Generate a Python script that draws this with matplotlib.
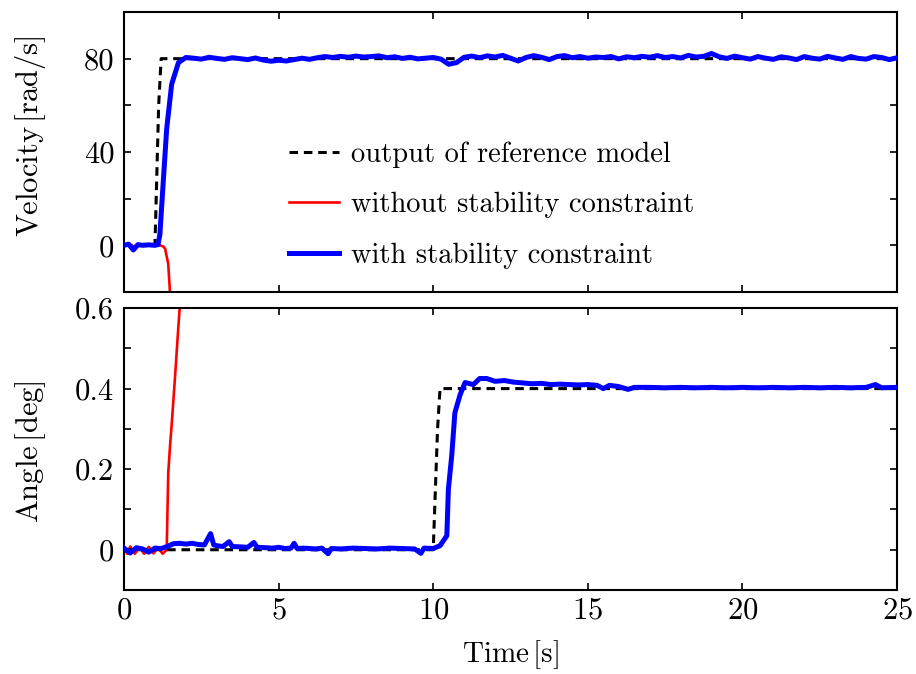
import numpy as np
import matplotlib
matplotlib.use("Agg")
import matplotlib.pyplot as plt
from matplotlib.ticker import MultipleLocator

plt.rcParams.update({
    "font.family": "serif",
    "font.serif": ["cmr10"],
    "mathtext.fontset": "cm",
    "axes.formatter.use_mathtext": True,
    "axes.unicode_minus": False,
})

# ---------------- data ----------------
# velocity of the reference model [rad/s]
t_vel_ref = [0.0, 1.0, 1.12, 1.2, 25.0]
vel_ref = [0.0, 0.0, 60.0, 80.0, 80.0]

# velocity without stability constraint (diverges after ~1.3 s)
t_vel_red = [0.0, 0.3, 0.6, 0.9, 1.16, 1.27, 1.33, 1.43, 1.49, 1.52]
vel_red = [0.0, -0.4, 0.3, -0.2, 0.0, -0.5, -1.5, -8.0, -21.0, -30.0]

# velocity with stability constraint
t_vel_blue = [0.0, 0.15, 0.3, 0.45, 0.6, 0.8, 1.0, 1.1, 1.16, 1.27, 1.38, 1.54, 1.76, 2.0,
              2.25, 2.5, 2.75, 3.0, 3.25, 3.5, 3.75, 4.0, 4.25, 4.5, 4.75, 5.0, 5.25, 5.5,
              5.75, 6.0, 6.25, 6.5, 6.75, 7.0, 7.25, 7.5, 7.75, 8.0, 8.25, 8.5, 8.75, 9.0,
              9.25, 9.5, 9.75, 10.0, 10.25, 10.5, 10.75, 11.0, 11.25, 11.5, 11.75, 12.0,
              12.25, 12.5, 12.75, 13.0, 13.25, 13.5, 13.75, 14.0, 14.25, 14.5, 14.75, 15.0,
              15.25, 15.5, 15.75, 16.0, 16.25, 16.5, 16.75, 17.0, 17.25, 17.5, 17.75, 18.0,
              18.25, 18.5, 18.75, 19.0, 19.25, 19.5, 19.75, 20.0, 20.25, 20.5, 20.75, 21.0,
              21.25, 21.5, 21.75, 22.0, 22.25, 22.5, 22.75, 23.0, 23.25, 23.5, 23.75, 24.0,
              24.25, 24.5, 24.75, 25.0]
vel_blue = [0.0, 0.5, -2.0, 0.3, 0.0, 0.2, 0.0, 0.3, 4.7, 27.5, 50.0, 69.0, 78.3, 80.5,
            80.2, 79.8, 80.6, 80.1, 79.7, 80.4, 80.0, 79.6, 80.3, 79.4, 78.9, 79.3, 79.0, 79.6,
            80.2, 79.7, 80.4, 80.9, 80.5, 81.0, 80.6, 81.1, 80.7, 80.9, 81.2, 80.4, 80.8, 80.1,
            80.6, 79.9, 80.2, 80.5, 79.8, 77.6, 78.3, 80.6, 81.1, 80.4, 81.2, 80.7,
            81.4, 80.2, 79.0, 80.5, 81.3, 80.6, 79.6, 80.9, 81.3, 80.4, 80.9, 80.2,
            80.7, 80.5, 80.9, 79.9, 80.8, 80.4, 81.0, 80.6, 81.3, 80.5, 80.9, 80.3,
            81.4, 80.7, 81.0, 82.2, 80.8, 80.1, 81.1, 80.4, 79.8, 80.9, 80.2, 79.7,
            80.8, 80.3, 79.6, 80.9, 80.2, 79.8, 81.0, 80.3, 79.7, 80.9, 80.1, 79.8,
            80.9, 80.5, 79.6, 80.4]

# angle of the reference model [deg]
t_ang_ref = [0.0, 10.0, 10.14, 10.22, 25.0]
ang_ref = [0.0, 0.0, 0.3, 0.4, 0.4]

# angle without stability constraint
t_ang_red = [0.0, 0.1, 0.2, 0.35, 0.5, 0.65, 0.8, 0.95, 1.1, 1.25, 1.38, 1.43, 1.49,
             1.55, 1.65, 1.75, 1.8, 1.85]
ang_red = [0.005, -0.01, 0.008, -0.01, 0.006, -0.01, 0.007, -0.009, 0.005, -0.01, 0.0,
           0.19, 0.26, 0.32, 0.43, 0.545, 0.6, 0.66]

# angle with stability constraint
t_ang_blue = [0.0, 0.2, 0.4, 0.6, 0.8, 1.0, 1.2, 1.4, 1.6, 1.8, 2.0, 2.2, 2.4, 2.6, 2.8,
              2.9, 3.0, 3.2, 3.4, 3.5, 3.8, 4.0, 4.2, 4.3, 4.6, 4.8, 5.0, 5.2, 5.4, 5.5,
              5.6, 5.8, 6.0, 6.2, 6.4, 6.6, 6.7, 7.0, 7.4, 7.8, 8.2, 8.6, 9.0, 9.4, 9.6,
              9.7, 10.0, 10.22, 10.44, 10.49, 10.6, 10.7, 10.87, 11.03, 11.3, 11.5, 11.73,
              12.0, 12.3, 12.6, 12.9, 13.2, 13.5, 13.8, 14.1, 14.4, 14.7, 15.0, 15.3, 15.5,
              15.7, 16.0, 16.3, 16.5, 17.0, 17.5, 18.0, 18.5, 19.0, 19.5, 20.0, 20.5, 21.0,
              21.5, 22.0, 22.5, 23.0, 23.5, 24.0, 24.3, 24.5, 25.0]
ang_blue = [0.004, -0.008, 0.005, 0.002, -0.006, 0.004, 0.003, 0.008, 0.015, 0.016, 0.014,
            0.016, 0.013, 0.012, 0.04, 0.012, 0.01, 0.008, 0.02, 0.008, 0.007, 0.006, 0.018,
            0.006, 0.005, 0.004, 0.006, 0.003, 0.004, 0.016, 0.003, 0.004, 0.003, 0.002,
            0.004, -0.01, 0.003, 0.002, 0.004, 0.003, 0.002, 0.004, 0.003, 0.002, -0.009,
            0.004, 0.003, 0.01, 0.035, 0.15, 0.235, 0.34, 0.385, 0.415, 0.41, 0.425, 0.425,
            0.418, 0.42, 0.416, 0.414, 0.412, 0.413, 0.41, 0.411, 0.41, 0.409, 0.41, 0.408,
            0.4, 0.408, 0.405, 0.398, 0.403, 0.403, 0.402, 0.403, 0.402, 0.403, 0.402, 0.403,
            0.402, 0.403, 0.402, 0.403, 0.402, 0.403, 0.402, 0.403, 0.41, 0.402, 0.403]

labels = ["output of reference model", "without stability constraint",
          "with stability constraint"]

# ---------------- figure ----------------
fig = plt.figure(figsize=(9.16, 6.74), dpi=100)
ax1 = fig.add_axes([0.1354, 0.5668, 0.8439, 0.4154])
ax2 = fig.add_axes([0.1354, 0.1246, 0.8439, 0.4184])

lw_ref, lw_red, lw_blue = 2.2, 1.9, 3.6

ax1.plot(t_vel_red, vel_red, color="red", lw=lw_red, label=labels[1], zorder=2)
ax1.plot(t_vel_ref, vel_ref, "k--", lw=lw_ref, dashes=(2.8, 1.9), label=labels[0], zorder=3)
ax1.plot(t_vel_blue, vel_blue, color="blue", lw=lw_blue, label=labels[2], zorder=4)

ax2.plot(t_ang_red, ang_red, color="red", lw=lw_red, zorder=2)
ax2.plot(t_ang_ref, ang_ref, "k--", lw=lw_ref, dashes=(2.8, 1.9), zorder=3)
ax2.plot(t_ang_blue, ang_blue, color="blue", lw=lw_blue, zorder=4)

ax1.set_ylim(-20, 100)
ax1.set_yticks([0, 40, 80])
ax1.yaxis.set_minor_locator(MultipleLocator(20))
ax2.set_ylim(-0.1, 0.6)
ax2.set_yticks([0, 0.2, 0.4, 0.6])
ax2.set_yticklabels(["0", "0.2", "0.4", "0.6"])
ax2.yaxis.set_minor_locator(MultipleLocator(0.1))

for ax in (ax1, ax2):
    ax.set_xlim(0, 25)
    ax.set_xticks([0, 5, 10, 15, 20, 25])
    ax.tick_params(which="both", direction="in", top=True, right=True,
                   length=5, width=1.2, labelsize=22, pad=7)
    for sp in ax.spines.values():
        sp.set_linewidth(1.5)

ax1.tick_params(axis="x", labelbottom=False)
ax2.tick_params(axis="x", pad=5)
ax1.set_yticklabels(["0", "40", "80"])

ax1.set_ylabel(r"Velocity$\,$[rad/s]", fontsize=22)
ax1.yaxis.set_label_coords(-0.098, 0.557)
ax2.set_ylabel(r"Angle$\,$[deg]", fontsize=22)
ax2.yaxis.set_label_coords(-0.098, 0.49)
ax2.set_xlabel(r"Time$\,$[s]", fontsize=21, labelpad=10)

handles, labs = ax1.get_legend_handles_labels()
order = [labs.index(l) for l in labels]
ax1.legend([handles[i] for i in order], [labs[i] for i in order],
           loc="center left", bbox_to_anchor=(0.18, 0.31), frameon=False,
           fontsize=20.5, handlelength=1.75, labelspacing=0.85, handletextpad=0.45)

fig.savefig("out.png", dpi=100)
